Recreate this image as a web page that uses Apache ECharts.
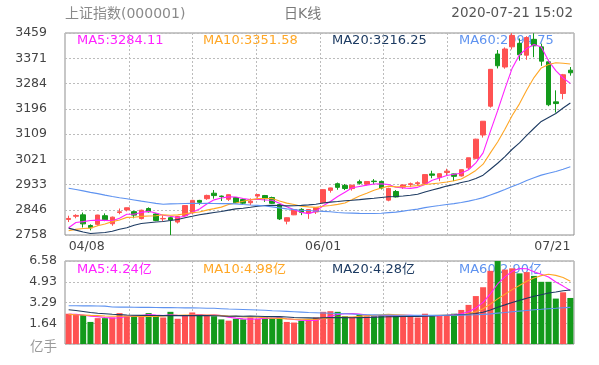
<!DOCTYPE html>
<html>
<head>
<meta charset="utf-8">
<script src="https://cdn.jsdelivr.net/npm/echarts@6/dist/echarts.min.js"></script>
<style>
html,body{margin:0;padding:0;background:#fff;}
#c{width:599px;height:365px;}
</style>
</head>
<body>
<div id="c"></div>
<script>
// ---------- data ----------
const dates = ['04/08','04/09','04/10','04/13','04/14','04/15','04/16','04/17','04/20','04/21','04/22','04/23','04/24','04/27','04/28','04/29','04/30','05/06','05/07','05/08','05/11','05/12','05/13','05/14','05/15','05/18','05/19','05/20','05/21','05/22','05/25','05/26','05/27','05/28','05/29','06/01','06/02','06/03','06/04','06/05','06/08','06/09','06/10','06/11','06/12','06/15','06/16','06/17','06/18','06/19','06/22','06/23','06/24','06/29','06/30','07/01','07/02','07/03','07/06','07/07','07/08','07/09','07/10','07/13','07/14','07/15','07/16','07/17','07/20','07/21'];

const opens = [2812,2823,2828,2791,2795,2825,2797,2836,2845,2839, 2815,2850,2831,2814,2818,2803,2825,2835,2878,2884, 2903,2893,2882,2888,2881,2870,2893,2895,2888,2864, 2806,2828,2847,2834,2838,2870,2913,2936,2930,2919, 2943,2934,2945,2944,2879,2909,2924,2933,2936,2937, 2970,2958,2975,2970,2963,2991,3024,3105,3205,3386, 3341,3411,3423,3382,3437,3411,3359,3220,3249,3330];
const closes = [2815.37,2825.90,2796.63,2783.05,2827.28,2811.17,2819.94,2838.49,2852.55,2827.01, 2843.98,2838.50,2808.53,2815.49,2810.02,2822.44,2860.08,2878.14,2871.52,2895.34, 2894.80,2891.56,2898.05,2870.34,2868.46,2875.42,2898.58,2883.74,2867.92,2813.77, 2817.97,2846.55,2836.80,2846.22,2852.35,2915.43,2921.40,2923.37,2919.25,2930.80, 2937.77,2943.75,2943.32,2920.90,2919.74,2890.03,2931.75,2935.87,2939.32,2967.63, 2965.27,2970.62,2979.55,2961.52,2984.67,3025.98,3090.57,3152.81,3332.88,3345.34, 3403.44,3450.59,3383.32,3443.29,3414.62,3361.30,3210.10,3214.13,3314.15,3320.90];
const lows = [2803,2816,2784,2774,2790,2806,2790,2830,2840,2816, 2812,2836,2806,2805,2758,2798,2822,2832,2863,2880, 2884,2876,2876,2868,2865,2862,2887,2873,2866,2810, 2795,2827,2827,2814,2831,2868,2905,2915,2914,2912, 2933,2930,2935,2916,2875,2888,2918,2924,2928,2933, 2955,2945,2965,2945,2961,2985,3021,3096,3200,3336, 3335,3402,3363,3366,3375,3345,3205,3183,3229,3311];
const highs = [2825,2830,2836,2795,2828,2833,2822,2850,2853,2842, 2846,2854,2833,2826,2822,2824,2862,2880,2880,2898, 2914,2895,2899,2889,2884,2885,2899,2897,2891,2866, 2819,2848,2851,2848,2853,2916,2922,2940,2935,2932, 2950,2944,2952,2947,2922,2914,2933,2940,2944,2968, 2981,2972,2988,2971,2985,3026,3092,3153,3333,3400, 3409,3458.79,3440,3448,3458,3422,3366,3260,3317,3341];

const ma5 = [2783.06,2801.33,2804.53,2808.34,2809.65,2808.81,2807.61,2815.99,2829.89,2829.83, 2836.39,2840.11,2834.11,2826.70,2823.30,2819.00,2823.31,2837.23,2848.44,2865.50, 2879.98,2886.27,2890.25,2890.02,2884.64,2880.77,2882.17,2879.31,2878.82,2867.89, 2856.40,2845.99,2836.60,2832.26,2839.98,2859.47,2874.44,2891.75,2906.36,2922.05, 2926.52,2930.99,2934.98,2935.31,2933.10,2923.55,2921.15,2919.66,2923.34,2932.92, 2947.97,2955.74,2964.48,2968.92,2972.33,2984.47,3008.46,3043.11,3117.38,3189.52, 3265.01,3337.01,3383.11,3405.20,3419.05,3410.62,3362.53,3328.69,3302.86,3284.12];
const ma10 = [2773.15,2777.58,2780.75,2781.84,2789.84,2795.93,2804.47,2810.26,2819.11,2819.74, 2822.60,2823.86,2825.05,2828.29,2826.57,2827.70,2831.71,2835.67,2837.57,2844.40, 2849.49,2854.79,2863.74,2869.23,2875.07,2880.37,2884.22,2884.78,2884.42,2876.26, 2868.58,2864.08,2857.96,2855.54,2853.93,2857.93,2860.22,2864.18,2869.31,2881.01, 2892.99,2902.71,2913.37,2920.83,2927.57,2925.03,2926.07,2927.32,2929.33,2933.01, 2935.76,2938.45,2942.07,2946.13,2952.62,2966.22,2982.10,3003.79,3043.15,3080.92, 3124.74,3172.74,3213.11,3261.29,3304.28,3337.82,3349.77,3355.90,3354.03,3351.58];
const ma20 = [2781.95,2774.82,2768.47,2763.25,2765.16,2766.73,2771.29,2778.11,2783.46,2791.80, 2797.87,2800.72,2802.90,2805.07,2808.21,2811.81,2818.09,2822.97,2828.34,2832.07, 2836.04,2839.33,2844.40,2848.76,2850.82,2854.03,2857.97,2860.23,2861.00,2860.33, 2859.03,2859.44,2860.85,2862.39,2864.50,2869.15,2872.22,2874.48,2876.87,2878.64, 2880.79,2883.40,2885.66,2888.19,2890.75,2891.48,2893.14,2895.75,2899.32,2907.01, 2914.38,2920.58,2927.72,2933.48,2940.10,2945.63,2954.08,2965.56,2986.24,3006.96, 3030.25,3055.59,3077.59,3103.71,3128.45,3152.02,3165.93,3179.85,3198.59,3216.25];
const ma60 = [2920.26,2915.62,2911.11,2905.91,2901.50,2896.42,2891.64,2887.45,2883.76,2879.62, 2875.42,2871.86,2867.66,2864.97,2866.03,2866.68,2867.38,2867.58,2867.50,2867.58, 2867.47,2866.88,2866.75,2865.97,2864.05,2862.23,2860.95,2858.51,2855.65,2852.02, 2848.77,2846.41,2843.84,2843.27,2841.29,2840.00,2838.50,2836.03,2834.11,2833.90, 2832.92,2832.51,2832.84,2833.40,2835.57,2837.41,2840.79,2844.69,2847.92,2853.04, 2857.09,2860.24,2863.82,2866.98,2870.94,2875.53,2881.47,2887.67,2897.15,2905.89, 2915.69,2926.10,2935.88,2946.88,2956.67,2965.84,2972.34,2978.60,2986.29,2994.52];

const volumes = [2.40,2.35,2.30,1.75,2.05,2.05,2.10,2.45,2.25,2.25, 2.25,2.45,2.25,2.10,2.55,2.00,2.30,2.50,2.35,2.25, 2.20,1.95,1.85,2.00,1.95,2.10,2.00,2.10,2.05,2.10, 1.75,1.70,1.85,1.90,2.10,2.55,2.60,2.55,2.20,2.15, 2.35,2.20,2.20,2.30,2.35,2.30,2.25,2.15,2.10,2.40, 2.30,2.30,2.30,2.40,2.70,3.10,3.80,4.50,5.80,6.58, 5.90,6.00,5.60,5.70,5.40,4.93,4.93,3.60,4.10,3.65];
const volMa5 = [2.35,2.35,2.30,2.20,2.17,2.10,2.05,2.08,2.18,2.22, 2.26,2.33,2.29,2.26,2.32,2.27,2.24,2.29,2.34,2.28, 2.32,2.25,2.12,2.05,1.99,1.97,1.98,2.03,2.04,2.07, 2.00,1.94,1.89,1.86,1.86,2.02,2.20,2.34,2.40,2.41, 2.37,2.29,2.22,2.24,2.28,2.27,2.28,2.27,2.23,2.24, 2.24,2.25,2.28,2.34,2.40,2.56,2.86,3.30,3.98,4.76, 5.32,5.76,5.98,5.96,5.72,5.53,5.31,4.91,4.59,4.24];
const volMa10 = [2.35,2.32,2.30,2.27,2.25,2.22,2.20,2.20,2.20,2.20, 2.18,2.19,2.19,2.22,2.27,2.27,2.29,2.29,2.30,2.30, 2.30,2.25,2.21,2.20,2.14,2.15,2.12,2.08,2.05,2.03, 1.99,1.96,1.96,1.95,1.97,2.01,2.07,2.12,2.13,2.14, 2.20,2.25,2.28,2.32,2.35,2.32,2.29,2.25,2.24,2.26, 2.26,2.27,2.28,2.29,2.32,2.40,2.56,2.79,3.16,3.58, 3.94,4.31,4.64,4.97,5.24,5.42,5.53,5.44,5.27,4.98];
const volMa20 = [2.72,2.65,2.58,2.50,2.44,2.40,2.36,2.33,2.30,2.28, 2.27,2.26,2.26,2.25,2.25,2.25,2.25,2.25,2.25,2.25, 2.24,2.22,2.20,2.21,2.20,2.21,2.20,2.18,2.17,2.17, 2.14,2.10,2.08,2.07,2.05,2.08,2.09,2.10,2.09,2.08, 2.09,2.10,2.12,2.14,2.16,2.17,2.18,2.18,2.18,2.20, 2.23,2.26,2.28,2.30,2.33,2.36,2.42,2.52,2.70,2.92, 3.10,3.29,3.46,3.63,3.78,3.91,4.04,4.12,4.22,4.28];
const volMa60 = [3.03,3.03,3.02,3.02,3.01,3.00,2.93,2.92,2.92,2.91, 2.90,2.90,2.89,2.88,2.88,2.87,2.86,2.86,2.85,2.84, 2.83,2.80,2.77,2.75,2.73,2.71,2.69,2.67,2.64,2.62, 2.59,2.56,2.53,2.50,2.48,2.46,2.44,2.42,2.40,2.38, 2.34,2.32,2.31,2.30,2.29,2.28,2.28,2.27,2.27,2.27, 2.27,2.27,2.28,2.28,2.29,2.30,2.32,2.35,2.39,2.45, 2.50,2.56,2.61,2.66,2.71,2.75,2.80,2.83,2.87,2.90];

const priceTicks = ['2758','2846','2933','3021','3109','3196','3284','3371','3459'];
const volTicks = ['亿手','1.64','3.29','4.93','6.58'];
const xLabelIdx = [0, 35, 69];
const priceMaLabels = ['MA5:3284.11','MA10:3351.58','MA20:3216.25','MA60:2994.75'];
const volMaLabels = ['MA5:4.24亿','MA10:4.98亿','MA20:4.28亿','MA60:2.90亿'];
const titleText = '上证指数(000001)';
const subText = '日K线';
const timeText = '2020-07-21 15:02';

// ---------- style / layout ----------
const FONT = '"DejaVu Sans","Noto Sans CJK SC",sans-serif';
const UP = '#ff5252', DOWN = '#139a1b';
const C5 = '#ff22ff', C10 = '#ffa726', C20 = '#1d3b62', C60 = '#5f93f0';
const LEG_X = [77, 203, 332, 459];
const LEG_C = [C5, C10, C20, C60];
const FRAME = '#8f8f8f';
const GRIDC = '#bcbcbc';
const GL = 65, GW = 509, P_TOP = 33, P_H = 202, V_TOP = 261, V_H = 83, XDIV = 8;

const PMIN = 2758, PMAX = 3459, PINT = (PMAX - PMIN) / 8;
const VMAX = 6.58, VINT = VMAX / 4;

const candleData = opens.map((o, i) => [o, closes[i], lows[i], highs[i]]);

function maLine(name, data, color, xi, yi) {
  return {name, type: 'line', data, xAxisIndex: xi, yAxisIndex: yi, showSymbol: false, symbol: 'none',
    lineStyle: {color, width: 1.1}, z: 4, silent: true};
}

const graphics = [
  {type: 'text', left: 65, top: 7, z: 0, style: {text: titleText, fill: '#8a8a8a', font: '14px ' + FONT}},
  {type: 'text', left: 284, top: 7, z: 0, style: {text: subText, fill: '#7a7a7a', font: '14px ' + FONT}},
  {type: 'text', right: 26, top: 7, z: 0, style: {text: timeText, fill: '#555', font: '13.5px ' + FONT}}
];
priceMaLabels.forEach((t, i) => graphics.push({type: 'text', left: LEG_X[i], top: 34, z: 0, style: {text: t, fill: LEG_C[i], font: '13px ' + FONT}}));
volMaLabels.forEach((t, i) => graphics.push({type: 'text', left: LEG_X[i], top: 263, z: 0, style: {text: t, fill: LEG_C[i], font: '13px ' + FONT}}));

// vertical dotted grid lines: the panels are split into XDIV equal columns
for (let k = 1; k < XDIV; k++) {
  const x = Math.round(GL + k * GW / XDIV) + 0.5;
  [[P_TOP, P_TOP + P_H], [V_TOP, V_TOP + V_H]].forEach(([y1, y2]) => graphics.push({
    type: 'line', silent: true, z: 1,
    shape: {x1: x, y1: y1, x2: x, y2: y2},
    style: {stroke: GRIDC, lineWidth: 1, lineDash: [2, 2]}
  }));
}

const gridLine = () => ({show: true, lineStyle: {color: GRIDC, type: [2, 2], width: 1}});
const hidden = () => ({show: false});

const chart = echarts.init(document.getElementById('c'), null, {renderer: 'canvas'});
chart.setOption({
  animation: false,
  backgroundColor: '#fff',
  textStyle: {fontFamily: FONT},
  grid: [
    {left: GL, width: GW, top: P_TOP, height: P_H, show: true, borderColor: FRAME, borderWidth: 1, backgroundColor: 'rgba(0,0,0,0)'},
    {left: GL, width: GW, top: V_TOP, height: V_H, show: true, borderColor: FRAME, borderWidth: 1, backgroundColor: 'rgba(0,0,0,0)'}
  ],
  graphic: graphics,
  xAxis: [
    {type: 'category', gridIndex: 0, data: dates, boundaryGap: true,
      axisLine: hidden(), axisTick: hidden(), splitLine: hidden(),
      axisLabel: {show: true, margin: 5, color: '#444', fontSize: 12.5, fontFamily: FONT,
        interval: (i) => xLabelIdx.indexOf(i) >= 0,
        alignMinLabel: 'left', alignMaxLabel: 'right', showMinLabel: true, showMaxLabel: true,
        padding: 0}},
    {type: 'category', gridIndex: 1, data: dates, boundaryGap: true,
      axisLine: hidden(), axisTick: hidden(), splitLine: hidden(), axisLabel: hidden()}
  ],
  yAxis: [
    {type: 'value', gridIndex: 0, min: PMIN, max: PMAX, interval: PINT,
      axisLine: hidden(), axisTick: hidden(), splitLine: gridLine(),
      axisLabel: {margin: 18, color: '#444', fontSize: 12.5, fontFamily: FONT, showMinLabel: true, showMaxLabel: true,
        formatter: v => priceTicks[Math.round((v - PMIN) / PINT)] || ''}},
    {type: 'value', gridIndex: 1, min: 0, max: VMAX, interval: VINT,
      axisLine: hidden(), axisTick: hidden(), splitLine: gridLine(),
      axisLabel: {margin: 8, color: '#444', fontSize: 12.5, fontFamily: FONT, showMinLabel: true, showMaxLabel: true,
        formatter: v => {
          const k = Math.round(v / VINT);
          return k === 0 ? '{u|' + volTicks[0] + '}' : volTicks[k];
        },
        rich: {u: {color: '#9a9a9a', fontSize: 13.5, fontFamily: FONT, padding: [7, 0, 0, 0]}}}}
  ],
  series: [
    {name: 'K', type: 'candlestick', xAxisIndex: 0, yAxisIndex: 0, data: candleData, barWidth: 5, z: 3,
      itemStyle: {color: UP, color0: DOWN, borderColor: UP, borderColor0: DOWN, borderWidth: 1}},
    maLine('MA5', ma5, C5, 0, 0),
    maLine('MA10', ma10, C10, 0, 0),
    maLine('MA20', ma20, C20, 0, 0),
    maLine('MA60', ma60, C60, 0, 0),
    {name: 'VOL', type: 'bar', xAxisIndex: 1, yAxisIndex: 1, data: volumes, barWidth: 6, z: 3,
      itemStyle: {color: p => closes[p.dataIndex] >= opens[p.dataIndex] ? UP : DOWN}},
    maLine('VMA5', volMa5, C5, 1, 1),
    maLine('VMA10', volMa10, C10, 1, 1),
    maLine('VMA20', volMa20, C20, 1, 1),
    maLine('VMA60', volMa60, C60, 1, 1)
  ]
});
</script>
</body>
</html>
